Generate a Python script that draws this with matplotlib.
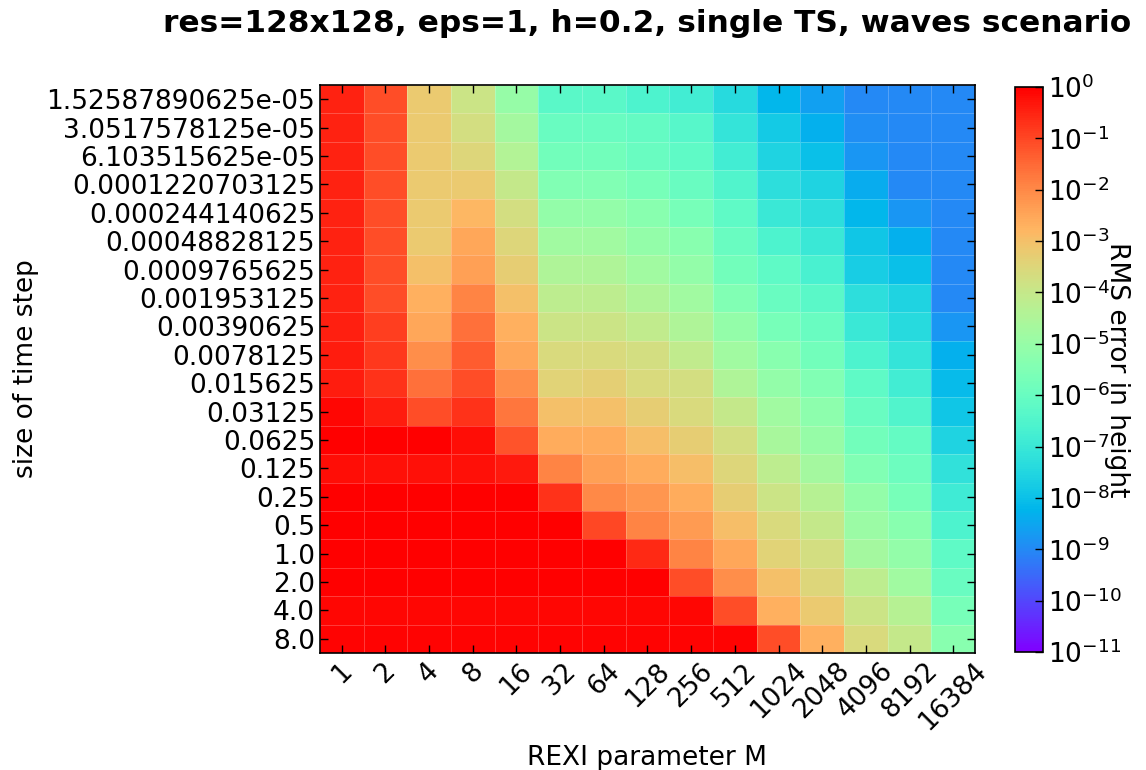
import numpy as np
import matplotlib
matplotlib.use("Agg")
import matplotlib.pyplot as plt
from matplotlib.colors import LogNorm

# size of time step (rows, top to bottom)
dt_labels = ["1.52587890625e-05", "3.0517578125e-05", "6.103515625e-05",
	"0.0001220703125", "0.000244140625", "0.00048828125", "0.0009765625",
	"0.001953125", "0.00390625", "0.0078125", "0.015625", "0.03125",
	"0.0625", "0.125", "0.25", "0.5", "1.0", "2.0", "4.0", "8.0"]

# REXI parameter M (columns)
m_labels = ["1", "2", "4", "8", "16", "32", "64", "128", "256", "512",
	"1024", "2048", "4096", "8192", "16384"]

# log10 of RMS error in height (one row per time step)
log_err = [
	[-0.5, -1.1, -3.2, -3.9, -5.0, -6.3, -6.3, -6.6, -6.8, -7.4, -8.2, -8.6, -9.0, -9.0, -9.0],
	[-0.5, -1.1, -3.2, -3.7, -4.7, -6.0, -6.0, -6.1, -6.4, -7.1, -7.8, -8.3, -8.9, -9.0, -9.0],
	[-0.5, -1.1, -3.2, -3.5, -4.4, -5.8, -5.8, -6.0, -6.2, -6.8, -7.6, -8.0, -8.8, -9.0, -9.0],
	[-0.5, -1.1, -3.2, -3.2, -4.0, -5.5, -5.5, -5.7, -6.0, -6.5, -7.3, -7.6, -8.4, -9.0, -9.0],
	[-0.5, -1.1, -3.2, -2.8, -3.7, -5.1, -5.1, -5.3, -5.7, -6.2, -7.0, -7.3, -8.2, -8.8, -9.0],
	[-0.5, -1.1, -3.2, -2.5, -3.5, -4.8, -4.8, -5.1, -5.3, -6.0, -6.6, -7.0, -7.9, -8.3, -9.0],
	[-0.5, -1.1, -3.0, -2.4, -3.3, -4.5, -4.5, -4.8, -5.1, -5.8, -6.2, -6.7, -7.7, -8.0, -9.0],
	[-0.5, -1.1, -2.7, -1.9, -3.0, -4.2, -4.2, -4.5, -4.8, -5.5, -6.0, -6.3, -7.3, -7.6, -9.0],
	[-0.45, -0.9, -2.5, -1.6, -2.7, -3.9, -3.9, -4.1, -4.5, -5.1, -5.7, -6.0, -7.0, -7.4, -8.8],
	[-0.4, -0.8, -2.1, -1.3, -2.5, -3.6, -3.6, -3.7, -4.1, -4.8, -5.3, -5.8, -6.6, -7.1, -8.3],
	[-0.4, -0.7, -1.6, -1.1, -2.1, -3.4, -3.35, -3.6, -3.7, -4.5, -5.1, -5.5, -6.2, -6.8, -8.1],
	[-0.1, -0.4, -1.1, -0.7, -1.7, -3.0, -3.0, -3.3, -3.6, -4.0, -4.8, -5.2, -6.0, -6.5, -7.9],
	[0.0, 0.0, 0.0, -0.2, -1.2, -2.6, -2.6, -2.95, -3.3, -3.7, -4.6, -5.0, -5.8, -6.1, -7.6],
	[-0.2, -0.25, -0.25, -0.25, -0.35, -1.9, -2.4, -2.6, -2.95, -3.5, -4.2, -4.7, -5.5, -5.9, -7.2],
	[0.0, 0.0, 0.0, 0.0, 0.0, -0.7, -2.0, -2.2, -2.6, -3.3, -3.9, -4.3, -5.1, -5.7, -6.9],
	[0.0, 0.0, 0.0, 0.0, 0.0, 0.0, -1.0, -1.9, -2.3, -2.95, -3.6, -4.0, -4.9, -5.3, -6.6],
	[0.0, 0.0, 0.0, 0.0, 0.0, 0.0, 0.0, -0.6, -1.9, -2.5, -3.4, -3.7, -4.7, -5.1, -6.2],
	[0.0, 0.0, 0.0, 0.0, 0.0, 0.0, 0.0, 0.0, -1.1, -2.1, -3.0, -3.5, -4.2, -4.8, -6.0],
	[-0.12, -0.12, -0.12, -0.12, -0.12, -0.12, -0.12, -0.12, -0.12, -1.1, -2.7, -3.2, -3.9, -4.3, -5.7],
	[-0.05, -0.05, -0.05, -0.05, -0.05, -0.05, -0.05, -0.05, -0.05, -0.05, -1.1, -2.7, -3.6, -4.0, -5.3],
]


def make_figure():
	err = 10.0 ** np.array(log_err)

	fig = plt.figure(figsize=(11.46, 7.70), dpi=100)
	ax = fig.add_axes([0.2792, 0.1519, 0.5716, 0.7377])
	cax = fig.add_axes([0.8857, 0.1532, 0.0244, 0.7338])

	mesh = ax.pcolormesh(err, cmap="rainbow", norm=LogNorm(vmin=1e-11, vmax=1e0),
		edgecolors=(1, 1, 1, 0.22), linewidth=0.6)
	ax.set_xlim(0, len(m_labels))
	ax.set_ylim(len(dt_labels), 0)

	ax.set_xticks(np.arange(len(m_labels)) + 0.5)
	ax.set_xticklabels(m_labels, rotation=45, fontsize=19)
	ax.set_yticks(np.arange(len(dt_labels)) + 0.5)
	ax.set_yticklabels(dt_labels, fontsize=19)
	ax.tick_params(direction="in", top=True, right=True, length=6, width=1)
	for s in ax.spines.values():
		s.set_linewidth(1.2)

	ax.set_xlabel("REXI parameter M", fontsize=19, labelpad=7)
	ax.set_ylabel("size of time step", fontsize=19, labelpad=5)
	ax.set_title("res=128x128, eps=1, h=0.2, single TS, waves scenario",
		fontsize=22.5, fontweight="bold", pad=38)

	cb = fig.colorbar(mesh, cax=cax)
	cb.set_ticks([10.0 ** k for k in range(0, -12, -1)])
	cb.ax.tick_params(direction="in", length=6, width=1, labelsize=19)
	cb.ax.minorticks_off()
	cb.outline.set_linewidth(1.2)
	cb.set_label("RMS error in height", fontsize=19, rotation=270)
	cb.ax.yaxis.set_label_coords(4.1, 0.5)

	fig.savefig("out.png", dpi=100)


if __name__ == "__main__":
	make_figure()
